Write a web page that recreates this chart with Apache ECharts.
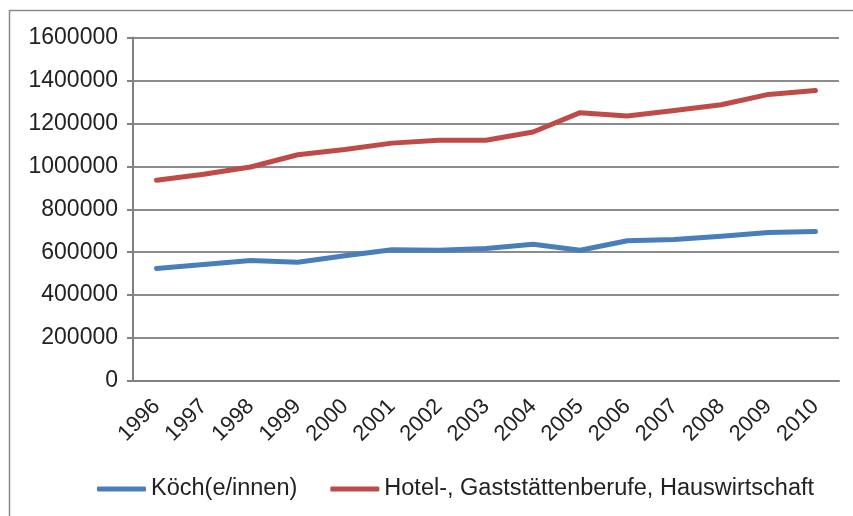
<!DOCTYPE html>
<html>
<head>
<meta charset="utf-8">
<script src="https://cdn.jsdelivr.net/npm/echarts@6/dist/echarts.min.js"></script>
<style>
html, body { margin: 0; padding: 0; background: #fff; }
#chart { width: 853px; height: 516px; }
</style>
</head>
<body>
<div id="chart"></div>
<script>
var years = ['1996', '1997', '1998', '1999', '2000', '2001', '2002', '2003',
             '2004', '2005', '2006', '2007', '2008', '2009', '2010'];
var koeche = [524000, 543000, 561000, 553000, 583000, 611000, 609000, 617000,
              637000, 609000, 653000, 659000, 674000, 692000, 696000];
var hotel = [935000, 963000, 997000, 1054000, 1078000, 1108000, 1121000, 1121000,
             1160000, 1250000, 1234000, 1260000, 1287000, 1335000, 1353000];
var seriesNames = ['Köch(e/innen)', 'Hotel-, Gaststättenberufe, Hauswirtschaft'];

var font = 'Liberation Sans, Arial, sans-serif';
var chart = echarts.init(document.getElementById('chart'));

chart.setOption({
    animation: false,
    color: ['#4a7ebb', '#be4b48'],
    textStyle: { fontFamily: font },
    grid: { left: 133, right: 14, top: 37.5, bottom: 135 },
    graphic: [{
        type: 'rect',
        shape: { x: 9.5, y: 10.5, width: 900, height: 600 },
        style: { fill: 'none', stroke: '#8a8a8a', lineWidth: 1.5 },
        silent: true
    }],
    legend: {
        left: 92,
        top: 472,
        itemWidth: 49,
        itemHeight: 5,
        itemGap: 33,
        icon: 'roundRect',
        textStyle: { fontFamily: font, fontSize: 23.5, color: '#222' },
        data: seriesNames
    },
    xAxis: {
        type: 'category',
        data: years,
        boundaryGap: true,
        axisLine: { lineStyle: { color: '#808080', width: 2 } },
        axisTick: { length: 7, lineStyle: { color: '#808080', width: 2 } },
        axisLabel: { rotate: 45, fontSize: 22, color: '#222', margin: 22, fontFamily: font }
    },
    yAxis: {
        type: 'value',
        min: 0,
        max: 1600000,
        interval: 200000,
        axisLine: { show: true, lineStyle: { color: '#808080', width: 2 } },
        axisTick: { show: true, length: 6, lineStyle: { color: '#808080', width: 2 } },
        axisLabel: {
            fontSize: 23, color: '#222', margin: 15, fontFamily: font,
            formatter: function (v) { return String(v); }
        },
        splitLine: { lineStyle: { color: '#8c8c8c', width: 2 } }
    },
    series: [
        {
            name: seriesNames[0],
            type: 'line',
            data: koeche,
            symbol: 'none',
            lineStyle: { width: 5, cap: 'round', join: 'round' }
        },
        {
            name: seriesNames[1],
            type: 'line',
            data: hotel,
            symbol: 'none',
            lineStyle: { width: 5, cap: 'round', join: 'round' }
        }
    ]
});
</script>
</body>
</html>
